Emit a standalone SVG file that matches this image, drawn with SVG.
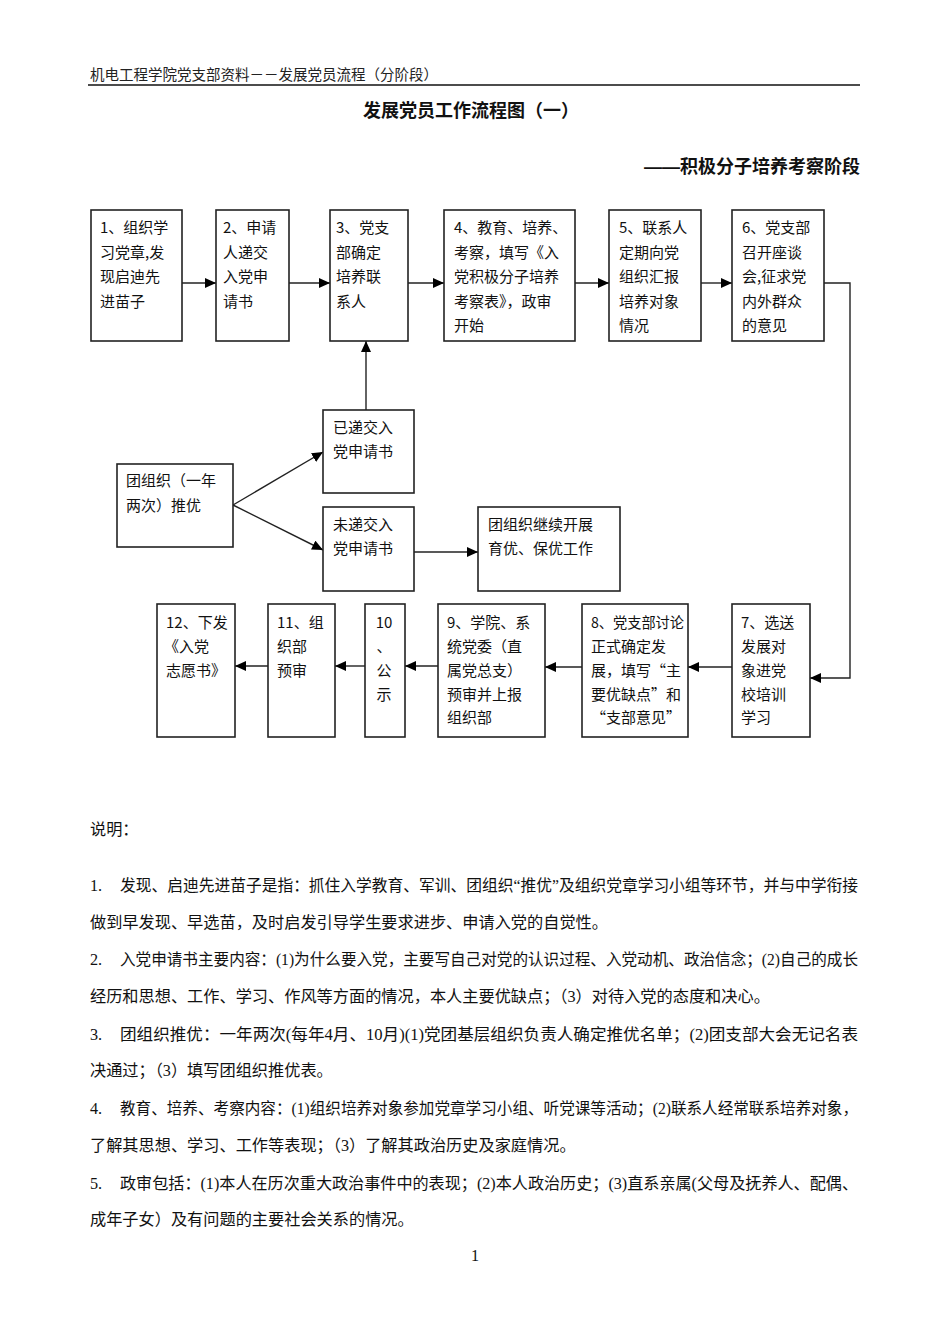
<svg xmlns="http://www.w3.org/2000/svg" width="950" height="1344" viewBox="0 0 950 1344">
<defs>
<marker id="arr" markerUnits="userSpaceOnUse" markerWidth="12" markerHeight="10" refX="11" refY="5" orient="auto">
<path d="M0,0 L11,5 L0,10 z" fill="#000"/>
</marker>
<style>
.box{fill:#fff;stroke:#222;stroke-width:1.6}
.bt{font-family:"Noto Sans CJK SC","Noto Sans",sans-serif;font-size:15px;fill:#111}
.cn{fill:none;stroke:#222;stroke-width:1.4}
.body{font-family:"Liberation Serif","Noto Sans CJK SC",serif;font-size:16.2px;fill:#111}
.hd{font-family:"Liberation Serif","Noto Sans CJK SC",serif;font-size:14.5px;fill:#222}
.tt{font-family:"Liberation Sans","Noto Sans CJK SC",sans-serif;font-size:18px;font-weight:bold;fill:#111}
</style>
</defs>
<rect width="950" height="1344" fill="#fff"/>

<g id="header">
<text class="hd" x="90" y="80">机电工程学院党支部资料－－发展党员流程（分阶段）</text>
<line x1="88" y1="85" x2="860" y2="85" stroke="#111" stroke-width="1.5"/>
<text class="tt" x="471" y="117" text-anchor="middle">发展党员工作流程图（一）</text>
<text class="tt" x="860" y="173" text-anchor="end">——积极分子培养考察阶段</text>
</g>

<g id="connectors">
<line class="cn" x1="182" y1="283" x2="216" y2="283" marker-end="url(#arr)"/>
<line class="cn" x1="289" y1="283" x2="330" y2="283" marker-end="url(#arr)"/>
<line class="cn" x1="408" y1="283" x2="444" y2="283" marker-end="url(#arr)"/>
<line class="cn" x1="575" y1="283" x2="609" y2="283" marker-end="url(#arr)"/>
<line class="cn" x1="701" y1="283" x2="732" y2="283" marker-end="url(#arr)"/>
<polyline class="cn" points="824,283 850,283 850,678 810,678" marker-end="url(#arr)"/>
<line class="cn" x1="732" y1="667" x2="688" y2="667" marker-end="url(#arr)"/>
<line class="cn" x1="582" y1="667" x2="545" y2="667" marker-end="url(#arr)"/>
<line class="cn" x1="438" y1="666" x2="405" y2="666" marker-end="url(#arr)"/>
<line class="cn" x1="365" y1="666" x2="335" y2="666" marker-end="url(#arr)"/>
<line class="cn" x1="268" y1="666" x2="235" y2="666" marker-end="url(#arr)"/>
<line class="cn" x1="366" y1="410" x2="366" y2="341" marker-end="url(#arr)"/>
<line class="cn" x1="233" y1="505" x2="323" y2="452" marker-end="url(#arr)"/>
<line class="cn" x1="233" y1="505" x2="323" y2="550" marker-end="url(#arr)"/>
<line class="cn" x1="414" y1="552" x2="478" y2="552" marker-end="url(#arr)"/>
</g>

<g id="n1"><rect class="box" x="91" y="210" width="91" height="131"/>
<text class="bt"><tspan x="100" y="233">1、组织学</tspan><tspan x="100" y="258">习党章,发</tspan><tspan x="100" y="282">现启迪先</tspan><tspan x="100" y="307">进苗子</tspan></text></g>
<g id="n2"><rect class="box" x="216" y="210" width="73" height="131"/>
<text class="bt"><tspan x="223" y="233">2、申请</tspan><tspan x="223" y="258">人递交</tspan><tspan x="223" y="282">入党申</tspan><tspan x="223" y="307">请书</tspan></text></g>
<g id="n3"><rect class="box" x="330" y="210" width="78" height="131"/>
<text class="bt"><tspan x="336" y="233">3、党支</tspan><tspan x="336" y="258">部确定</tspan><tspan x="336" y="282">培养联</tspan><tspan x="336" y="307">系人</tspan></text></g>
<g id="n4"><rect class="box" x="444" y="210" width="131" height="131"/>
<text class="bt"><tspan x="454" y="233">4、教育、培养、</tspan><tspan x="454" y="258">考察，填写《入</tspan><tspan x="454" y="282">党积极分子培养</tspan><tspan x="454" y="307">考察表》，政审</tspan><tspan x="454" y="331">开始</tspan></text></g>
<g id="n5"><rect class="box" x="609" y="210" width="92" height="131"/>
<text class="bt"><tspan x="619" y="233">5、联系人</tspan><tspan x="619" y="258">定期向党</tspan><tspan x="619" y="282">组织汇报</tspan><tspan x="619" y="307">培养对象</tspan><tspan x="619" y="331">情况</tspan></text></g>
<g id="n6"><rect class="box" x="732" y="210" width="92" height="131"/>
<text class="bt"><tspan x="742" y="233">6、党支部</tspan><tspan x="742" y="258">召开座谈</tspan><tspan x="742" y="282">会,征求党</tspan><tspan x="742" y="307">内外群众</tspan><tspan x="742" y="331">的意见</tspan></text></g>

<g id="n_yi"><rect class="box" x="323" y="410" width="91" height="83"/>
<text class="bt"><tspan x="333" y="433">已递交入</tspan><tspan x="333" y="457">党申请书</tspan></text></g>
<g id="n_tuan"><rect class="box" x="117" y="464" width="116" height="83"/>
<text class="bt"><tspan x="126" y="486">团组织（一年</tspan><tspan x="126" y="511">两次）推优</tspan></text></g>
<g id="n_wei"><rect class="box" x="323" y="507" width="91" height="84"/>
<text class="bt"><tspan x="333" y="530">未递交入</tspan><tspan x="333" y="554">党申请书</tspan></text></g>
<g id="n_jixu"><rect class="box" x="478" y="507" width="142" height="84"/>
<text class="bt"><tspan x="488" y="530">团组织继续开展</tspan><tspan x="488" y="554">育优、保优工作</tspan></text></g>

<g id="n7"><rect class="box" x="732" y="604" width="78" height="133"/>
<text class="bt"><tspan x="741" y="628">7、选送</tspan><tspan x="741" y="652">发展对</tspan><tspan x="741" y="676">象进党</tspan><tspan x="741" y="700">校培训</tspan><tspan x="741" y="723">学习</tspan></text></g>
<g id="n8"><rect class="box" x="582" y="604" width="106" height="133"/>
<text class="bt" x="591" y="628" textLength="93" lengthAdjust="spacingAndGlyphs">8、党支部讨论</text>
<text class="bt"><tspan x="591" y="652">正式确定发</tspan><tspan x="591" y="676">展，填写“主</tspan><tspan x="591" y="700">要优缺点”和</tspan><tspan x="591" y="723">“支部意见”</tspan></text></g>
<g id="n9"><rect class="box" x="438" y="604" width="107" height="133"/>
<text class="bt"><tspan x="447" y="628">9、学院、系</tspan><tspan x="447" y="652">统党委（直</tspan><tspan x="447" y="676">属党总支）</tspan><tspan x="447" y="700">预审并上报</tspan><tspan x="447" y="723">组织部</tspan></text></g>
<g id="n10"><rect class="box" x="365" y="604" width="40" height="133"/>
<text class="bt" text-anchor="middle"><tspan x="384" y="628">10</tspan><tspan x="384" y="652">、</tspan><tspan x="384" y="676">公</tspan><tspan x="384" y="700">示</tspan></text></g>
<g id="n11"><rect class="box" x="268" y="604" width="67" height="133"/>
<text class="bt"><tspan x="277" y="628">11、组</tspan><tspan x="277" y="652">织部</tspan><tspan x="277" y="676">预审</tspan></text></g>
<g id="n12"><rect class="box" x="157" y="604" width="78" height="133"/>
<text class="bt"><tspan x="166" y="628">12、下发</tspan><tspan x="164" y="652">《入党</tspan><tspan x="166" y="676">志愿书》</tspan></text></g>

<g id="notes">
<text class="body" x="90" y="835">说明：</text>
<text class="body" x="90" y="891">1.</text>
<text class="body" x="120" y="891" textLength="738" lengthAdjust="spacingAndGlyphs">发现、启迪先进苗子是指：抓住入学教育、军训、团组织“推优”及组织党章学习小组等环节，并与中学衔接</text>
<text class="body" x="90" y="928">做到早发现、早选苗，及时启发引导学生要求进步、申请入党的自觉性。</text>
<text class="body" x="90" y="965">2.</text>
<text class="body" x="120" y="965" textLength="738" lengthAdjust="spacingAndGlyphs">入党申请书主要内容：(1)为什么要入党，主要写自己对党的认识过程、入党动机、政治信念；(2)自己的成长</text>
<text class="body" x="90" y="1002">经历和思想、工作、学习、作风等方面的情况，本人主要优缺点；（3）对待入党的态度和决心。</text>
<text class="body" x="90" y="1040">3.</text>
<text class="body" x="120" y="1040" textLength="738" lengthAdjust="spacingAndGlyphs">团组织推优：一年两次(每年4月、10月)(1)党团基层组织负责人确定推优名单；(2)团支部大会无记名表</text>
<text class="body" x="90" y="1076">决通过；（3）填写团组织推优表。</text>
<text class="body" x="90" y="1114">4.</text>
<text class="body" x="120" y="1114" textLength="738" lengthAdjust="spacingAndGlyphs">教育、培养、考察内容：(1)组织培养对象参加党章学习小组、听党课等活动；(2)联系人经常联系培养对象，</text>
<text class="body" x="90" y="1151">了解其思想、学习、工作等表现；（3）了解其政治历史及家庭情况。</text>
<text class="body" x="90" y="1189">5.</text>
<text class="body" x="120" y="1189" textLength="738" lengthAdjust="spacingAndGlyphs">政审包括：(1)本人在历次重大政治事件中的表现；(2)本人政治历史；(3)直系亲属(父母及抚养人、配偶、</text>
<text class="body" x="90" y="1225">成年子女）及有问题的主要社会关系的情况。</text>
<text class="body" x="475" y="1261" text-anchor="middle">1</text>
</g>
</svg>
